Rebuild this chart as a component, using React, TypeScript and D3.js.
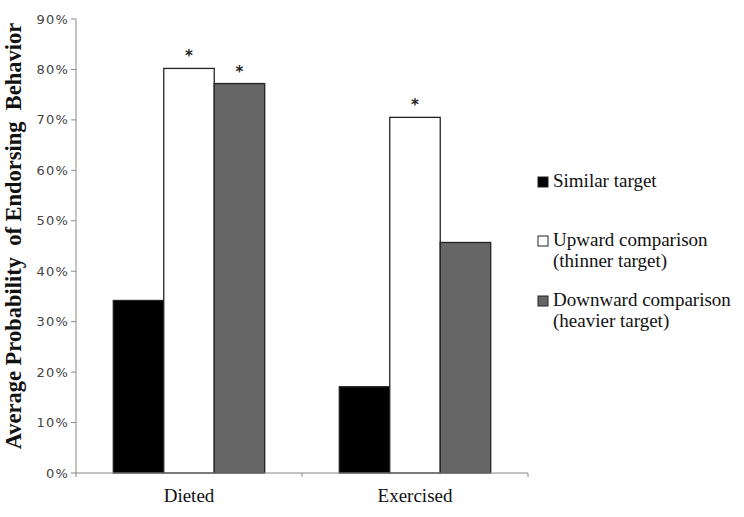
import React from "react";
import * as d3 from "d3";

const categories = ["Dieted", "Exercised"];
const seriesNames = ["Similar target", "Upward comparison (thinner target)", "Downward comparison (heavier target)"];
const similar = [0.342, 0.171];
const upward = [0.802, 0.705];
const downward = [0.772, 0.457];
const significant = [[false, true, true], [false, true, false]];
const yTicks = [0, 0.1, 0.2, 0.3, 0.4, 0.5, 0.6, 0.7, 0.8, 0.9];
const legendLines = [["Similar target"], ["Upward comparison", "(thinner target)"], ["Downward comparison", "(heavier target)"]];
const fills = ["#000000", "#ffffff", "#666666"];

export default function App() {
  const W = 744, H = 517;
  const left = 76, right = 528, top = 19, bottom = 473;
  const y = d3.scaleLinear().domain([0, 0.9]).range([bottom, top]);
  const x0 = d3.scaleBand().domain(categories).range([left, right]).paddingInner(0.33).paddingOuter(0.165);
  const x1 = d3.scaleBand().domain(seriesNames).range([0, x0.bandwidth()]);
  const series = [similar, upward, downward];
  const tickFmt = d3.format(".0%");
  const serif = "'Liberation Serif', 'Times New Roman', 'DejaVu Serif', serif";
  const sans = "Verdana, 'DejaVu Sans', sans-serif";
  const legendY = [187, 246, 306];
  return (
    <svg width={W} height={H} style={{ position: "absolute", left: 0, top: 0, background: "#fff" }}>
      <rect width={W} height={H} fill="#fff" />
      {/* bars */}
      {categories.map((c, ci) =>
        series.map((s, si) => {
          const bx = (x0(c) as number) + (x1(seriesNames[si]) as number);
          const by = y(s[ci]);
          return (
            <g key={c + si}>
              <rect x={bx} y={by} width={x1.bandwidth()} height={bottom - by}
                fill={fills[si]} stroke="#222" strokeWidth={1.3} />
              {significant[ci][si] && (
                <text x={bx + x1.bandwidth() / 2} y={by - 7} textAnchor="middle"
                  fontFamily={sans} fontSize={15} fontWeight="bold" fill="#222">*</text>
              )}
            </g>
          );
        })
      )}
      {/* y axis */}
      <line x1={left} x2={left} y1={top} y2={bottom} stroke="#888" strokeWidth={1} />
      {yTicks.map((t) => (
        <g key={t}>
          <line x1={left - 5} x2={left} y1={y(t)} y2={y(t)} stroke="#888" />
          <text x={left - 7} y={y(t)} dy="0.35em" textAnchor="end" fontFamily={sans} fontSize={13}
            letterSpacing={1.2} fill="#444">
            {tickFmt(t)}
          </text>
        </g>
      ))}
      {/* x axis */}
      <line x1={left} x2={right} y1={bottom} y2={bottom} stroke="#888" strokeWidth={1} />
      {[left, (left + right) / 2, right].map((t) => (
        <line key={t} x1={t} x2={t} y1={bottom} y2={bottom + 4} stroke="#888" />
      ))}
      {categories.map((c) => (
        <text key={c} x={(x0(c) as number) + x0.bandwidth() / 2} y={502} textAnchor="middle"
          fontFamily={serif} fontSize={19} fill="#111">{c}</text>
      ))}
      {/* y title */}
      <text transform={`translate(21,236) rotate(-90)`} textAnchor="middle"
        fontFamily={serif} fontSize={22.5} fontWeight="bold" fill="#111" style={{ whiteSpace: "pre" }}>
        {"Average Probability  of Endorsing  Behavior"}
      </text>
      {/* legend */}
      {legendLines.map((lines, i) => (
        <g key={i}>
          <rect x={538} y={legendY[i] - 10} width={10} height={10} fill={fills[i]} stroke="#222" strokeWidth={1} />
          {lines.map((l, li) => (
            <text key={li} x={553} y={legendY[i] + li * 21} fontFamily={serif} fontSize={19} fill="#111">{l}</text>
          ))}
        </g>
      ))}
    </svg>
  );
}
